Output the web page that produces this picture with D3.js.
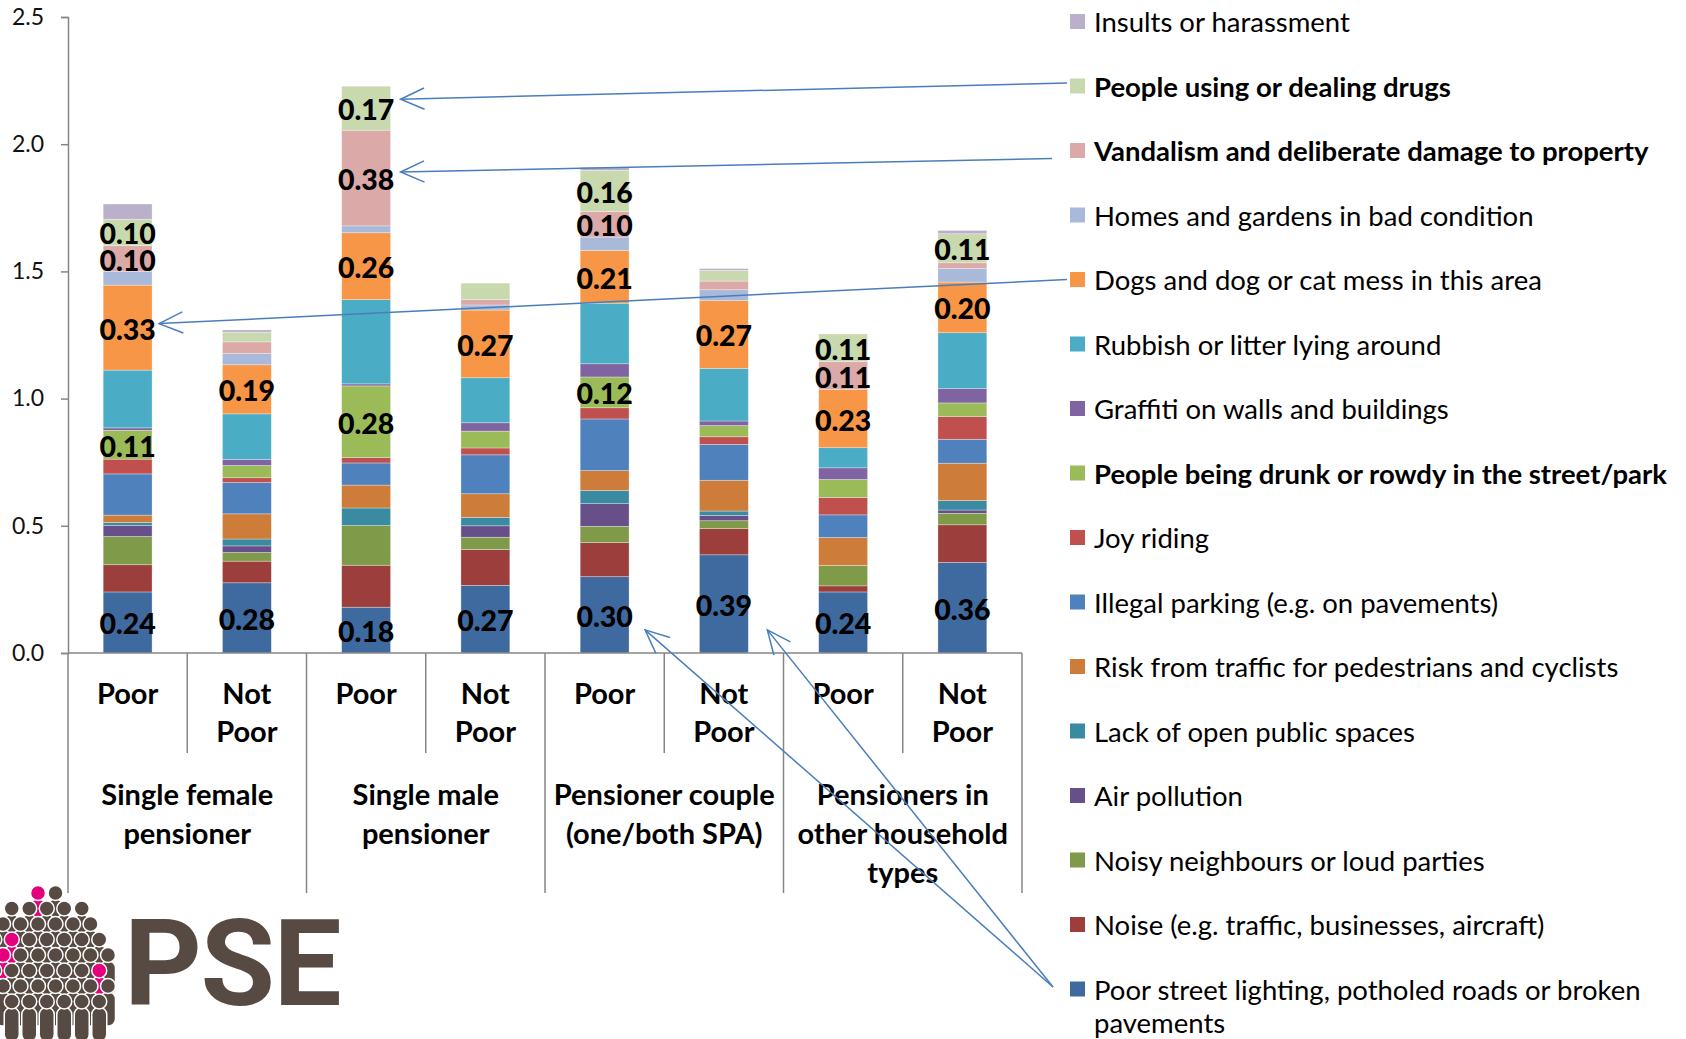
<!DOCTYPE html>
<html><head><meta charset="utf-8">
<script src="https://cdn.jsdelivr.net/npm/d3@7"></script>
<style>body{margin:0;background:#fff} svg{display:block}</style>
</head><body><svg id="c" width="1686" height="1039"></svg>
<script>
// ---------- DATA ----------
const barLabels = ["Poor","Not Poor","Poor","Not Poor","Poor","Not Poor","Poor","Not Poor"];
const groupLabels = [["Single female","pensioner"],["Single male","pensioner"],["Pensioner couple","(one/both SPA)"],["Pensioners in","other household","types"]];
const yTicks = [0, 0.5, 1.0, 1.5, 2.0, 2.5];

// series in stacking order, bottom to top
const seriesNames = [
  "Poor street lighting, potholed roads or broken pavements",
  "Noise (e.g. traffic, businesses, aircraft)",
  "Noisy neighbours or loud parties",
  "Air pollution",
  "Lack of open public spaces",
  "Risk from traffic for pedestrians and cyclists",
  "Illegal parking (e.g. on pavements)",
  "Joy riding",
  "People being drunk or rowdy in the street/park",
  "Graffiti on walls and buildings",
  "Rubbish or litter lying around",
  "Dogs and dog or cat mess in this area",
  "Homes and gardens in bad condition",
  "Vandalism and deliberate damage to property",
  "People using or dealing drugs",
  "Insults or harassment"
];
const streetLighting = [0.240, 0.276, 0.180, 0.266, 0.300, 0.386, 0.240, 0.356];
const noise          = [0.107, 0.085, 0.165, 0.141, 0.134, 0.103, 0.024, 0.148];
const noisyNeighbours= [0.111, 0.034, 0.156, 0.048, 0.064, 0.031, 0.080, 0.045];
const airPollution   = [0.043, 0.026, 0.000, 0.045, 0.089, 0.021, 0.000, 0.013];
const lackOpenSpaces = [0.012, 0.027, 0.069, 0.033, 0.052, 0.017, 0.000, 0.037];
const riskTraffic    = [0.029, 0.099, 0.090, 0.093, 0.078, 0.121, 0.110, 0.147];
const illegalParking = [0.162, 0.123, 0.087, 0.153, 0.203, 0.141, 0.089, 0.094];
const joyRiding      = [0.058, 0.019, 0.021, 0.027, 0.044, 0.030, 0.068, 0.089];
const drunkRowdy     = [0.113, 0.048, 0.282, 0.066, 0.121, 0.044, 0.071, 0.054];
const graffiti       = [0.010, 0.024, 0.008, 0.033, 0.052, 0.018, 0.046, 0.056];
const rubbish        = [0.227, 0.179, 0.331, 0.177, 0.238, 0.207, 0.079, 0.220];
const dogMess        = [0.334, 0.193, 0.263, 0.266, 0.207, 0.266, 0.229, 0.199];
const homesGardens   = [0.053, 0.044, 0.027, 0.020, 0.053, 0.043, 0.000, 0.054];
const vandalism      = [0.102, 0.046, 0.376, 0.021, 0.100, 0.034, 0.109, 0.022];
const drugs          = [0.104, 0.038, 0.173, 0.065, 0.162, 0.042, 0.109, 0.114];
const insults        = [0.060, 0.009, 0.000, 0.000, 0.012, 0.007, 0.000, 0.013];
const seriesValues = [streetLighting, noise, noisyNeighbours, airPollution, lackOpenSpaces, riskTraffic,
  illegalParking, joyRiding, drunkRowdy, graffiti, rubbish, dogMess, homesGardens, vandalism, drugs, insults];
const seriesColors = ["#3f6a9f","#9b3e3c","#7f9a48","#67508a","#3a8ba1","#cd7c39","#4f81bd","#c0504d",
  "#9bbb59","#8064a2","#4bacc6","#f79646","#a9b9d9","#dba9a8","#c8d9ae","#bab0cb"];
const boldSeries = new Set([8, 13, 14]);
const labelledSeries = new Set([0, 8, 11, 13, 14]);
// annotation arrows: series index, bar index
const arrows = [
  {s:14, b:2, dy:-9, gap:10, srcGap:3, srcDy:-3},
  {s:13, b:2, dy:-6, gap:10, srcGap:18, srcDy:8},
  {s:11, b:0, dy:-4, gap:7,  srcGap:3, srcDy:0},
  {s:0,  b:4, dy:15, gap:16, srcGap:17, srcDy:-2},
  {s:0,  b:5, dy:26, gap:19, srcGap:17, srcDy:-2}
];

// ---------- LAYOUT ----------
const svg = d3.select("#c");
const FONT = "Lato, 'Open Sans', sans-serif";
const x0 = 68, x1 = 1022, yBase = 653, yTop = 17;
const x = d3.scaleBand().domain(d3.range(barLabels.length)).range([x0, x1]).paddingInner(0.59).paddingOuter(0.295);
const y = d3.scaleLinear().domain([0, 2.5]).range([yBase, yTop]);

const table = barLabels.map((_, i) => { const o = {i}; seriesValues.forEach((v, k) => o[k] = v[i]); return o; });
const stack = d3.stack().keys(d3.range(seriesNames.length))(table);

// bars
const layers = svg.append("g").selectAll("g").data(stack).join("g").attr("fill", (d, k) => seriesColors[k]);
layers.selectAll("rect").data(d => d).join("rect")
  .attr("x", d => x(d.data.i)).attr("width", x.bandwidth())
  .attr("y", d => y(d[1])).attr("height", d => Math.max(0, y(d[0]) - y(d[1])))
  .attr("stroke", "#ffffff").attr("stroke-opacity", 0.45).attr("stroke-width", 0.7);

// y axis
const yAxis = svg.append("g").attr("transform", `translate(${x0},0)`)
  .call(d3.axisLeft(y).tickValues(yTicks).tickFormat(d3.format(".1f")).tickSize(7).tickPadding(17));
yAxis.select(".domain").attr("stroke", "#868686").attr("stroke-width", 1.5);
yAxis.selectAll(".tick line").attr("stroke", "#868686").attr("stroke-width", 1.5);
yAxis.selectAll(".tick text").attr("font-family", FONT).attr("font-size", 23).attr("fill", "#111");

// x axis
svg.append("line").attr("x1", x0).attr("x2", x1).attr("y1", yBase).attr("y2", yBase)
  .attr("stroke", "#868686").attr("stroke-width", 1.5);
const step = x.step();
d3.range(barLabels.length + 1).forEach(i => {
  const bx = x0 + i * step;
  svg.append("line").attr("x1", bx).attr("x2", bx).attr("y1", yBase)
    .attr("y2", i % 2 === 0 ? 893 : 753).attr("stroke", "#868686").attr("stroke-width", 1.5);
});
const catG = svg.append("g").attr("font-family", FONT).attr("font-weight", 700).attr("font-size", 29)
  .attr("fill", "#000").attr("text-anchor", "middle");
barLabels.forEach((lab, i) => {
  const cx = x(i) + x.bandwidth() / 2;
  lab.split(" ").forEach((w, j) => {
    catG.append("text").attr("x", cx).attr("y", 692 + j * 38).attr("dominant-baseline", "central").text(w);
  });
});
groupLabels.forEach((lines, g) => {
  const cx = x0 + (g * 2 + 1) * step;
  lines.forEach((t, j) => {
    catG.append("text").attr("x", cx).attr("y", 793 + j * 39).attr("dominant-baseline", "central").text(t);
  });
});

// data labels
const fmt = d3.format(".2f");
const lblG = svg.append("g").attr("font-family", FONT).attr("font-weight", 900).attr("font-size", 28.5)
  .attr("fill", "#000").attr("text-anchor", "middle");
stack.forEach((layer, k) => {
  if (!labelledSeries.has(k)) return;
  layer.forEach(d => {
    const v = d[1] - d[0];
    if (v < 0.095) return;
    lblG.append("text").attr("x", x(d.data.i) + x.bandwidth() / 2).attr("y", (y(d[0]) + y(d[1])) / 2 + 1)
      .attr("dominant-baseline", "central").text(fmt(v));
  });
});

// legend (top to bottom = reverse stacking order)
const legX = 1070, legY0 = 21.5, legStep = 64.5;
const legOrder = d3.range(seriesNames.length).reverse();
const legG = svg.append("g").attr("font-family", FONT).attr("font-size", 27.5).attr("fill", "#000");
const legendY = {};
legOrder.forEach((k, j) => {
  const ly = legY0 + j * legStep;
  legendY[k] = ly;
  legG.append("rect").attr("x", legX).attr("y", ly - 7.5).attr("width", 15).attr("height", 15).attr("fill", seriesColors[k]);
  const name = seriesNames[k];
  const t = legG.append("text").attr("x", legX + 24).attr("y", ly).attr("dominant-baseline", "central")
    .attr("font-weight", boldSeries.has(k) ? 700 : 400);
  if (k === 0) {
    t.text("Poor street lighting, potholed roads or broken");
    legG.append("text").attr("x", legX + 24).attr("y", ly + 33).attr("dominant-baseline", "central").text("pavements");
  } else t.text(name);
});

// annotation arrows
const arrowG = svg.append("g").attr("stroke", "#4a7ebb").attr("stroke-width", 1.5).attr("fill", "none");
arrows.forEach(a => {
  const seg = stack[a.s][a.b];
  const tx = x(a.b) + x.bandwidth() + a.gap, ty = (y(seg[0]) + y(seg[1])) / 2 + a.dy;
  const sx = legX - a.srcGap, sy = legendY[a.s] + a.srcDy;
  arrowG.append("line").attr("x1", sx).attr("y1", sy).attr("x2", tx).attr("y2", ty);
  const ang = Math.atan2(sy - ty, sx - tx), L = 26, spread = 0.42;
  const p1 = [tx + L * Math.cos(ang + spread), ty + L * Math.sin(ang + spread)];
  const p2 = [tx + L * Math.cos(ang - spread), ty + L * Math.sin(ang - spread)];
  arrowG.append("path").attr("d", `M${p1[0]},${p1[1]}L${tx},${ty}L${p2[0]},${p2[1]}`);
});

// PSE logo
const logo = svg.append("g");
logo.append("clipPath").attr("id", "lc").append("rect").attr("x", 0).attr("y", 860).attr("width", 130).attr("height", 179);
const people = logo.append("g").attr("clip-path", "url(#lc)");
const pinkSpots = [[38, 893], [5, 948], [93, 968]];
const persons = [];
for (let r = 0; r < 8; r++) {
  for (let c = -1; c < 8; c++) {
    const px = c * 17.5 + (r % 2) * 8.75 + 3, py = 893 + r * 15.5;
    if (((px - 48) / 68) ** 2 + ((py - 958) / 68) ** 2 <= 1) persons.push([px, py]);
  }
}
persons.forEach(([px, py]) => {
  const pink = pinkSpots.some(([qx, qy]) => Math.hypot(qx - px, qy - py) < 11);
  const col = pink ? "#e5007d" : "#574a42";
  people.append("rect").attr("x", px - 7.5).attr("y", py + 6).attr("width", 15).attr("height", 34).attr("rx", 7)
    .attr("fill", col).attr("stroke", "#ffffff").attr("stroke-width", 1.5);
  people.append("circle").attr("cx", px).attr("cy", py).attr("r", 7.5)
    .attr("fill", col).attr("stroke", "#ffffff").attr("stroke-width", 1.5);
});
logo.append("text").attr("x", 124).attr("y", 1005).attr("font-family", "Roboto, sans-serif").attr("font-weight", 700)
  .attr("font-size", 121).attr("fill", "#574a42").attr("letter-spacing", -1.5).text("PSE");
</script></body></html>
